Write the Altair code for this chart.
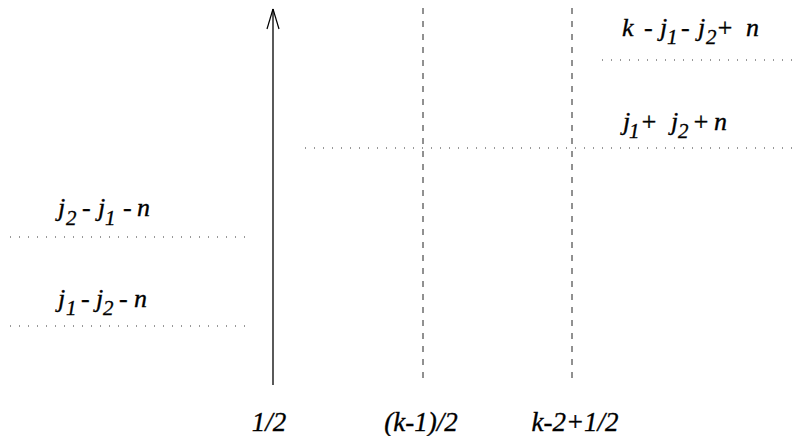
import altair as alt
import pandas as pd

# ---- diagram data (page-pixel coordinates of the reference drawing) ----
dashed_x = [423, 572]
dashed_top = [8, 8]
dashed_bottom = [385, 385]

arrow_x = [273]
arrow_bottom = [385]
arrow_tip = [9]
head_x_end = [267, 279]
head_y_end = [29, 29]

dot_x1 = [10, 10, 305, 602]
dot_x2 = [245, 245, 800, 800]
dot_y = [237, 326, 148, 60]

# label pieces: text, x (left), baseline y
main_text = ["j", "-", "j", "-", "n",
             "j", "-", "j", "-", "n",
             "k", "-", "j", "-", "j", "+", "n",
             "j", "+", "j", "+", "n"]
main_x = [58, 82, 98, 123, 137,
          58, 81, 96, 119, 134,
          622, 644, 660, 681, 698, 716, 746,
          623, 640, 671, 692, 714]
main_y = [216, 216, 216, 216, 216,
          307, 307, 307, 307, 307,
          36, 36, 36, 36, 36, 36, 36,
          130, 130, 130, 130, 130]

sub_text = ["2", "1", "1", "2", "1", "2", "1", "2"]
sub_x = [66, 105, 66, 103, 667, 706, 629, 678]
sub_y = [225, 225, 315, 315, 44, 44, 138, 138]

tick_text = ["1/2", "(k-1)/2", "k-2+1/2"]
tick_x = [269, 421, 575]
tick_y = [431, 431, 431]

W, H = 787, 428

# ---- scales mapping data to page pixels ----
xs = alt.Scale(domain=[8, 8 + W], nice=False, zero=False)
ys = alt.Scale(domain=[8, 8 + H], nice=False, zero=False, reverse=True)

def X(f):
    return alt.X(f, type="quantitative", scale=xs, axis=None)

def Y(f):
    return alt.Y(f, type="quantitative", scale=ys, axis=None)

dashed_df = pd.DataFrame({"x": dashed_x, "y1": dashed_top, "y2": dashed_bottom})
dashed = alt.Chart(dashed_df).mark_rule(
    color="#222", strokeWidth=1, strokeDash=[6, 7]
).encode(x=X("x"), y=Y("y1"), y2="y2")

dot_df = pd.DataFrame({"x1": dot_x1, "x2": dot_x2, "y": dot_y})
dotted = alt.Chart(dot_df).mark_rule(
    color="#333", strokeWidth=1, strokeDash=[1, 8], clip=True
).encode(x=X("x1"), x2="x2", y=Y("y"))

shaft_df = pd.DataFrame({"x": arrow_x, "y1": arrow_bottom, "y2": arrow_tip})
shaft = alt.Chart(shaft_df).mark_rule(color="black", strokeWidth=1.3).encode(
    x=X("x"), y=Y("y1"), y2="y2"
)

head_df = pd.DataFrame({
    "x1": arrow_x * 2, "y1": arrow_tip * 2,
    "x2": head_x_end, "y2": head_y_end,
})
head = alt.Chart(head_df).mark_rule(color="black", strokeWidth=1.2).encode(
    x=X("x1"), y=Y("y1"), x2="x2", y2="y2"
)

font = "Liberation Serif"
text_style = dict(font=font, fontStyle="italic", baseline="alphabetic",
                  color="black", stroke="black", strokeWidth=0.35)

main_df = pd.DataFrame({"t": main_text, "x": main_x, "y": main_y})
main = alt.Chart(main_df).mark_text(
    fontSize=26, align="left", **text_style
).encode(x=X("x"), y=Y("y"), text="t:N")

sub_df = pd.DataFrame({"t": sub_text, "x": sub_x, "y": sub_y})
sub = alt.Chart(sub_df).mark_text(
    fontSize=21, align="left", **text_style
).encode(x=X("x"), y=Y("y"), text="t:N")

tick_df = pd.DataFrame({"t": tick_text, "x": tick_x, "y": tick_y})
ticks = alt.Chart(tick_df).mark_text(
    fontSize=27, align="center", **text_style
).encode(x=X("x"), y=Y("y"), text="t:N")

chart = alt.layer(dashed, dotted, shaft, head, main, sub, ticks).properties(
    width=W, height=H,
    autosize=alt.AutoSizeParams(type="none"),
    padding=0,
    background="white",
).configure_view(stroke=None)

chart.save("out.html", embed_options={"renderer": "svg", "actions": False})
